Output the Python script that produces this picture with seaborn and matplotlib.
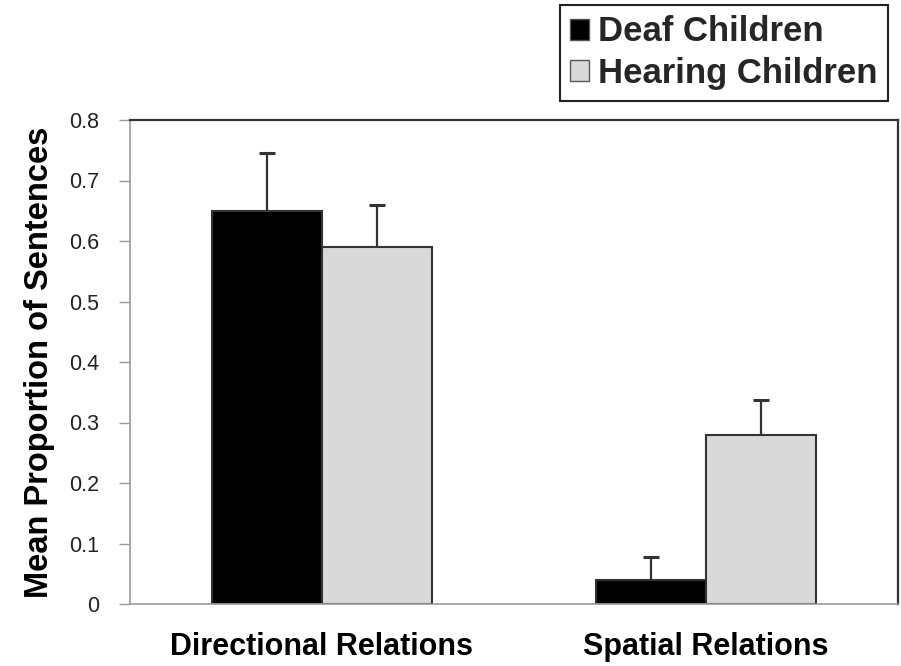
import matplotlib
matplotlib.use("Agg")
import matplotlib.pyplot as plt
import seaborn as sns
import pandas as pd
from matplotlib.patches import Patch

# Data
relations = ["Directional Relations", "Spatial Relations"]
groups = ["Deaf Children", "Hearing Children"]
deaf_means = [0.65, 0.04]
hearing_means = [0.59, 0.28]
deaf_err = [0.095, 0.038]
hearing_err = [0.07, 0.057]
y_ticks = [0, 0.1, 0.2, 0.3, 0.4, 0.5, 0.6, 0.7, 0.8]

df = pd.DataFrame({
    "relation": relations * 2,
    "group": [groups[0]] * 2 + [groups[1]] * 2,
    "mean": deaf_means + hearing_means,
    "err": deaf_err + hearing_err,
})

sns.set_theme(style="white")
plt.rcParams["font.family"] = ["Liberation Sans", "DejaVu Sans"]

fig = plt.figure(figsize=(9.01, 6.66), dpi=100)
ax = fig.add_axes([130 / 901, 1 - 604 / 666, 768 / 901, 484 / 666])

colors = {groups[0]: "#000000", groups[1]: "#d9d9d9"}
sns.barplot(data=df, x="relation", y="mean", hue="group", order=relations,
            hue_order=groups, palette=colors, width=0.573, errorbar=None,
            edgecolor="#333333", linewidth=1.5, ax=ax, legend=False)

# Upward-only error bars at the centre of each bar
for container, grp in zip(ax.containers, groups):
    sub = df[df["group"] == grp].set_index("relation").loc[relations]
    xs = [p.get_x() + p.get_width() / 2 for p in container.patches]
    _, caps, _ = ax.errorbar(xs, sub["mean"],
                             yerr=[[0] * len(xs), sub["err"].tolist()],
                             fmt="none", ecolor="#333333", elinewidth=1.6,
                             capsize=6, capthick=2.2, zorder=3)
    caps[0].set_visible(False)  # keep only the upper cap

ax.set_xlim(-0.5, 1.5)
ax.set_ylim(0, 0.8)
ax.set_yticks(y_ticks)
ax.set_yticklabels([f"{v:g}" for v in y_ticks], fontsize=15.5, color="#222222")
ax.tick_params(axis="y", which="major", left=True, length=8, width=1,
               color="#999999", pad=14)
ax.tick_params(axis="x", bottom=False, pad=14)
for lbl in ax.get_xticklabels():
    lbl.set_fontsize(22)
    lbl.set_fontweight("bold")
    lbl.set_color("black")

ax.set_xlabel("")
ax.set_ylabel("Mean Proportion of Sentences", fontsize=23.5, fontweight="bold",
              color="black", labelpad=10)

for side in ["left", "bottom"]:
    ax.spines[side].set_color("#999999")
    ax.spines[side].set_linewidth(1.2)
for side in ["top", "right"]:
    ax.spines[side].set_color("#333333")
    ax.spines[side].set_linewidth(1.6)

handles = [Patch(facecolor=colors[g], edgecolor="#555555", linewidth=1.0) for g in groups]
leg = fig.legend(handles, groups, loc="upper right",
                 bbox_to_anchor=(888 / 901, 1 - 5 / 666), frameon=True,
                 fancybox=False, edgecolor="#222222", framealpha=1,
                 prop={"weight": "bold", "size": 25},
                 handlelength=0.55, handleheight=0.55, handletextpad=0.25,
                 labelspacing=0.25, borderpad=0.3, borderaxespad=0)
leg.get_frame().set_linewidth(1.5)

fig.savefig("out.png", dpi=100)
